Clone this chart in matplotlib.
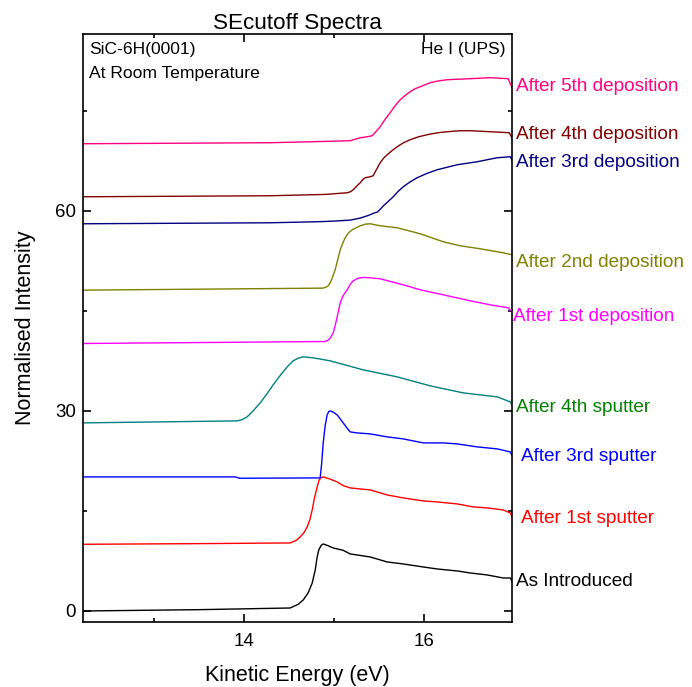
import matplotlib
matplotlib.use("Agg")
import matplotlib.pyplot as plt
from matplotlib.ticker import MultipleLocator

plt.rcParams['font.family'] = ['Liberation Sans', 'DejaVu Sans']

# ---- data ----
x_intro = [12.21, 13.5, 14.51, 14.6, 14.656, 14.71, 14.756, 14.79, 14.811, 14.83, 14.856, 14.878,
           14.93, 14.989, 15.1, 15.178, 15.4, 15.589, 15.767, 15.989, 16.144, 16.367, 16.511,
           16.7, 16.878, 16.956, 16.975]
y_intro = [0.0, 0.2, 0.45, 1.0, 1.65, 2.7, 4.2, 6.2, 8.1, 9.2, 9.85, 10.05,
           9.8, 9.45, 9.1, 8.55, 8.1, 7.35, 7.05, 6.6, 6.3, 6.0, 5.7,
           5.4, 4.95, 4.95, 4.5]

x_sp1 = [12.21, 13.5, 14.511, 14.58, 14.622, 14.667, 14.7, 14.73, 14.756, 14.78, 14.811, 14.833,
         14.856, 14.878, 14.95, 15.033, 15.1, 15.178, 15.4, 15.589, 15.767, 15.989, 16.144,
         16.367, 16.544, 16.7, 16.878, 16.956, 16.975]
y_sp1 = [10.0, 10.1, 10.2, 10.6, 11.1, 11.8, 12.6, 13.7, 15.15, 16.9, 18.6, 19.65,
         20.0, 20.1, 19.8, 19.35, 18.8, 18.45, 18.15, 17.4, 16.95, 16.5, 16.35,
         16.05, 15.6, 15.45, 15.15, 14.7, 14.2]

x_sp3 = [12.21, 13.9, 13.95, 14.8, 14.844, 14.86, 14.878, 14.9, 14.922, 14.94, 14.956, 14.99,
         15.033, 15.1, 15.15, 15.178, 15.25, 15.4, 15.589, 15.767, 15.989, 16.211, 16.367,
         16.589, 16.811, 16.956, 16.975]
y_sp3 = [20.1, 20.1, 19.9, 19.95, 19.95, 22.0, 25.2, 27.8, 29.4, 29.9, 30.0, 29.8,
         29.4, 28.2, 27.3, 26.85, 26.7, 26.55, 26.1, 25.8, 25.2, 25.2, 25.05,
         24.6, 24.3, 23.85, 23.3]

x_sp4 = [12.21, 13.922, 13.98, 14.033, 14.1, 14.178, 14.25, 14.322, 14.4, 14.478, 14.544,
         14.6, 14.656, 14.767, 14.956, 15.322, 15.7, 16.067, 16.433, 16.811, 16.956, 16.975]
y_sp4 = [28.2, 28.5, 28.7, 29.1, 30.0, 31.2, 32.5, 33.9, 35.3, 36.6, 37.5,
         37.9, 38.1, 37.95, 37.5, 36.15, 35.1, 33.75, 32.7, 32.1, 31.35, 30.9]

x_dep1 = [12.21, 14.9, 14.933, 14.96, 14.989, 15.011, 15.033, 15.067, 15.1, 15.144, 15.18,
          15.211, 15.267, 15.33, 15.4, 15.511, 15.767, 15.956, 16.211, 16.511, 16.733,
          16.933, 16.975]
y_dep1 = [40.1, 40.4, 40.6, 41.0, 41.7, 42.8, 44.1, 46.2, 47.3, 48.15, 49.0,
          49.5, 49.9, 50.0, 49.95, 49.8, 48.9, 48.15, 47.4, 46.5, 45.9,
          45.45, 44.85]

x_dep2 = [12.21, 14.87, 14.9, 14.93, 14.956, 14.98, 15.011, 15.04, 15.067, 15.1, 15.122,
          15.16, 15.2, 15.289, 15.35, 15.4, 15.511, 15.7, 15.956, 16.211, 16.4, 16.622,
          16.878, 16.975]
y_dep2 = [48.1, 48.4, 48.5, 48.7, 49.2, 50.0, 51.15, 52.7, 54.15, 55.3, 55.95,
          56.7, 57.15, 57.75, 58.0, 58.05, 57.75, 57.45, 56.55, 55.35, 54.75, 54.3,
          53.7, 53.4]

x_dep3 = [12.21, 14.289, 14.8, 15.0, 15.178, 15.289, 15.38, 15.45, 15.478, 15.51, 15.544,
          15.6, 15.656, 15.71, 15.767, 15.84, 15.922, 16.03, 16.144, 16.367, 16.589,
          16.811, 16.956, 16.975]
y_dep3 = [58.05, 58.2, 58.35, 58.45, 58.6, 58.9, 59.3, 59.7, 59.8, 60.2, 60.7,
          61.4, 62.1, 62.9, 63.6, 64.3, 64.95, 65.6, 66.15, 66.9, 67.35,
          67.95, 68.1, 67.6]

x_dep4 = [12.21, 14.289, 14.9, 15.144, 15.18, 15.211, 15.25, 15.289, 15.32, 15.344, 15.4,
          15.433, 15.47, 15.511, 15.55, 15.589, 15.65, 15.7, 15.77, 15.844, 15.94, 16.033,
          16.15, 16.256, 16.4, 16.511, 16.733, 16.944, 16.975]
y_dep4 = [62.1, 62.25, 62.45, 62.7, 62.85, 63.15, 63.7, 64.2, 64.7, 64.95, 65.1,
          65.25, 66.2, 67.2, 67.9, 68.4, 69.1, 69.6, 70.2, 70.65, 71.1, 71.4,
          71.7, 71.85, 72.0, 72.0, 71.85, 71.7, 70.95]

x_dep5 = [12.21, 14.289, 14.9, 15.178, 15.289, 15.367, 15.422, 15.46, 15.511, 15.56, 15.622,
          15.68, 15.733, 15.79, 15.844, 15.9, 15.956, 16.067, 16.15, 16.256, 16.511, 16.733,
          16.933, 16.975]
y_dep5 = [70.05, 70.2, 70.4, 70.5, 70.95, 71.1, 71.25, 71.8, 72.6, 73.6, 74.7,
          75.8, 76.65, 77.3, 77.85, 78.3, 78.6, 79.2, 79.45, 79.65, 79.8, 79.95,
          79.8, 78.45]

series_names = ["As Introduced", "After 1st sputter", "After 3rd sputter", "After 4th sputter",
                "After 1st deposition", "After 2nd deposition", "After 3rd deposition",
                "After 4th deposition", "After 5th deposition"]
series_x = [x_intro, x_sp1, x_sp3, x_sp4, x_dep1, x_dep2, x_dep3, x_dep4, x_dep5]
series_y = [y_intro, y_sp1, y_sp3, y_sp4, y_dep1, y_dep2, y_dep3, y_dep4, y_dep5]
line_colors = ["#000000", "#ff0000", "#0000ff", "#008080", "#ff00ff", "#808000",
               "#000080", "#800000", "#ff0080"]
label_colors = ["#000000", "#ff0000", "#0000ff", "#008000", "#ff00ff", "#808000",
                "#000080", "#800000", "#ff0080"]

# label layout (axes-fraction x, data y)
label_x = [1.009, 1.021, 1.021, 1.009, 1.002, 1.009, 1.009, 1.009, 1.009]
label_y = [4.35, 13.8, 23.1, 30.45, 44.1, 52.2, 67.2, 71.4, 78.6]

fig = plt.figure(figsize=(6.92, 6.87), dpi=100)
ax = fig.add_axes([83/692, 1-622/687, 429/692, 588/687])

for xs, ys, c in zip(series_x, series_y, line_colors):
    ax.plot(xs, ys, color=c, lw=1.0)

for name, lx, ly, c in zip(series_names, label_x, label_y, label_colors):
    ax.text(lx, ly, name, color=c, fontsize=13.7, va='center', ha='left',
            transform=ax.get_yaxis_transform())

ax.set_xlim(12.21, 16.975)
ax.set_ylim(-1.65, 86.5)
ax.xaxis.set_major_locator(MultipleLocator(2))
ax.xaxis.set_minor_locator(MultipleLocator(1))
ax.yaxis.set_major_locator(MultipleLocator(30))
ax.yaxis.set_minor_locator(MultipleLocator(15))
ax.tick_params(which='both', direction='in', top=True, right=True, width=1.2, labelsize=13.5)
ax.tick_params(which='major', length=6)
ax.tick_params(which='minor', length=3)
ax.tick_params(axis='x', pad=8)
ax.tick_params(axis='y', pad=5)
for sp in ax.spines.values():
    sp.set_linewidth(1.2)

ax.set_xlabel("Kinetic Energy (eV)", fontsize=15.5, labelpad=11)
ax.set_ylabel("Normalised Intensity", fontsize=15.5, labelpad=14)
ax.set_title("SEcutoff Spectra", fontsize=16.2, pad=2)

ax.text(0.014, 0.986, "SiC-6H(0001)", transform=ax.transAxes, fontsize=12.6, va='top', ha='left')
ax.text(0.014, 0.946, "At Room Temperature", transform=ax.transAxes, fontsize=12.6, va='top', ha='left')
ax.text(0.985, 0.986, "He I (UPS)", transform=ax.transAxes, fontsize=12.6, va='top', ha='right')

fig.savefig("out.png", dpi=100)
